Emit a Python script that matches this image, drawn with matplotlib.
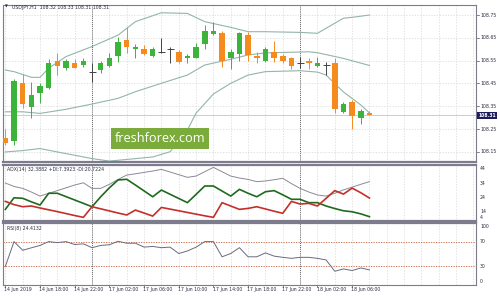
import numpy as np
import matplotlib
matplotlib.use('Agg')
import matplotlib.pyplot as plt

W, H = 500, 296

# hourly USDJPY candles
opens = [108.213, 108.199, 108.451, 108.348, 108.410, 108.429, 108.549, 108.519, 108.538, 108.530,
         108.500, 108.509, 108.528, 108.570, 108.640, 108.600, 108.600, 108.570, 108.589, 108.600,
         108.589, 108.560, 108.560, 108.622, 108.667, 108.672, 108.560, 108.578, 108.662, 108.572,
         108.549, 108.589, 108.570, 108.560, 108.538, 108.549, 108.528, 108.531, 108.538, 108.326,
         108.370, 108.298, 108.320]
highs = [108.249, 108.470, 108.490, 108.458, 108.451, 108.557, 108.582, 108.556, 108.556, 108.560,
         108.538, 108.549, 108.582, 108.655, 108.699, 108.622, 108.619, 108.611, 108.651, 108.611,
         108.597, 108.579, 108.629, 108.706, 108.719, 108.681, 108.600, 108.676, 108.677, 108.587,
         108.611, 108.637, 108.578, 108.567, 108.567, 108.563, 108.567, 108.545, 108.560, 108.370,
         108.378, 108.337, 108.330]
lows = [108.181, 108.181, 108.341, 108.298, 108.363, 108.425, 108.487, 108.509, 108.517, 108.521,
        108.458, 108.497, 108.521, 108.545, 108.582, 108.560, 108.575, 108.567, 108.582, 108.540,
        108.538, 108.538, 108.560, 108.600, 108.662, 108.521, 108.512, 108.549, 108.550, 108.538,
        108.545, 108.545, 108.538, 108.512, 108.517, 108.512, 108.521, 108.487, 108.319, 108.319,
        108.249, 108.273, 108.310]
closes = [108.191, 108.461, 108.360, 108.400, 108.439, 108.538, 108.527, 108.549, 108.519, 108.549,
          108.500, 108.538, 108.560, 108.630, 108.611, 108.611, 108.579, 108.600, 108.589, 108.600,
          108.545, 108.570, 108.611, 108.681, 108.681, 108.550, 108.589, 108.670, 108.575, 108.560,
          108.600, 108.560, 108.550, 108.527, 108.538, 108.538, 108.541, 108.531, 108.338, 108.359,
          108.309, 108.331, 108.310]

# bollinger bands, sampled points (candle index, price)
bb_up_idx = [0, 1, 3, 4, 5, 7, 10, 13, 15, 18, 21, 23, 26, 28, 30, 34, 36, 37, 39, 40, 42]
bb_up = [108.509, 108.502, 108.477, 108.477, 108.517, 108.568, 108.612, 108.662, 108.721, 108.760,
         108.757, 108.721, 108.696, 108.677, 108.677, 108.674, 108.670, 108.692, 108.736, 108.740, 108.750]
bb_mid_idx = [0, 2, 4, 7, 10, 13, 15, 18, 21, 23, 26, 28, 30, 35, 36, 39, 42]
bb_mid = [108.326, 108.326, 108.319, 108.337, 108.360, 108.385, 108.414, 108.451, 108.487, 108.531,
          108.556, 108.575, 108.584, 108.589, 108.585, 108.560, 108.529]
bb_low_idx = [0, 2, 4, 6, 10, 12, 17, 19, 21, 22, 24, 26, 28, 30, 34, 36, 37, 39, 41, 42]
bb_low = [108.150, 108.156, 108.165, 108.150, 108.121, 108.110, 108.128, 108.151, 108.246, 108.320,
          108.404, 108.451, 108.487, 108.502, 108.506, 108.500, 108.487, 108.413, 108.356, 108.321]

adx = [31.4, 29.0, 27.6, 25.0, 22.1, 24.1, 26.0, 28.0, 30.0, 31.6, 27.6, 27.6, 30.5, 34.0, 37.1,
       38.0, 39.0, 40.0, 41.2, 39.3, 37.4, 35.5, 36.4, 39.5, 42.6, 39.5, 36.4, 35.0, 34.0, 32.4,
       32.9, 33.8, 34.8, 31.0, 27.6, 25.0, 22.9, 22.1, 24.1, 26.5, 28.5, 30.5, 32.4]
plus_di = [12.6, 20.9, 20.5, 18.0, 15.7, 24.1, 24.1, 21.7, 19.3, 16.9, 14.5, 21.6, 28.0, 33.6, 34.1,
           30.0, 25.8, 21.6, 26.4, 23.4, 20.4, 17.4, 23.3, 29.3, 29.3, 25.7, 22.1, 26.9, 24.1, 21.6,
           25.2, 26.0, 23.0, 19.8, 19.8, 17.4, 17.4, 15.0, 13.2, 11.6, 10.9, 9.4, 7.4]
minus_di = [18.3, 16.0, 14.5, 15.0, 13.6, 12.3, 11.0, 9.6, 8.2, 6.9, 14.5, 13.0, 11.5, 10.0, 8.6,
            12.1, 10.0, 7.8, 14.0, 12.8, 11.6, 10.4, 9.2, 8.0, 6.9, 17.4, 15.0, 12.6, 13.3, 14.5,
            12.9, 11.3, 9.8, 18.3, 16.4, 16.9, 15.0, 20.5, 26.0, 23.5, 27.8, 24.5, 20.7]
rsi = [30, 70, 56, 60, 63.8, 70, 68.4, 70, 65.3, 66.4, 60.2, 63.8, 64.9, 70.5, 67.4, 67.4, 61.1,
       62.2, 60.2, 61.1, 50.8, 54.9, 61, 70, 70, 45.5, 50.8, 60.2, 45.5, 45.5, 51.8, 46.6, 44.6,
       43, 44.6, 44.6, 43, 40.4, 22.2, 25.9, 23.3, 27.5, 24.4]

price_ticks = [108.15, 108.25, 108.35, 108.45, 108.55, 108.65, 108.75]
time_idx = [0, 4, 8, 12, 16, 20, 24, 28, 32, 36, 40]
time_labels = ['14 Jun 2019', '14 Jun 18:00', '14 Jun 22:00', '17 Jun 02:00', '17 Jun 06:00',
               '17 Jun 10:00', '17 Jun 14:00', '17 Jun 18:00', '17 Jun 22:00', '18 Jun 02:00',
               '18 Jun 06:00']
day_breaks = [10, 34]
last_price = 108.31

bull = '#3cb43c'
bear = '#f58a1f'
band_c = '#93b5aa'
fs = 3.35
txt_c = '#2a2a40'


def px_box(x0, y0, x1, y1):
    return [x0 / W, 1 - y1 / H, (x1 - x0) / W, (y1 - y0) / H]


fig = plt.figure(figsize=(5, 2.96), dpi=100)
fig.patch.set_facecolor('white')
ax_p = fig.add_axes(px_box(3, 5, 476, 162))
ax_a = fig.add_axes(px_box(3, 165, 476, 221))
ax_r = fig.add_axes(px_box(3, 223, 476, 285))

xmin, xmax = -0.27, 54.29
for ax in (ax_p, ax_a, ax_r):
    ax.set_xlim(xmin, xmax)
    ax.set_xticks([])
    ax.set_yticks([])
    for s in ax.spines.values():
        s.set_color('#7c7c8c')
        s.set_linewidth(0.8)
    for gx in range(0, 55, 2):
        ax.axvline(gx, color='#d8d8d8', lw=0.5, ls=(0, (2, 2)), zorder=0)
    for d in day_breaks:
        ax.axvline(d, color='#333333', lw=0.6, ls=(0, (1, 1.5)), zorder=1)
ax_p.spines['bottom'].set_linewidth(1.6)
ax_a.spines['top'].set_linewidth(1.6)
ax_a.spines['bottom'].set_linewidth(1.6)
ax_r.spines['top'].set_linewidth(1.6)

# price panel
ax_p.set_ylim(108.106, 108.794)
for p in price_ticks:
    ax_p.axhline(p, color='#d8d8d8', lw=0.5, ls=(0, (2, 2)), zorder=0)
ax_p.axhline(last_price, color='#c4c4c4', lw=0.6, zorder=1)

ax_p.plot(bb_up_idx, bb_up, color=band_c, lw=0.8, zorder=2)
ax_p.plot(bb_mid_idx, bb_mid, color=band_c, lw=0.8, zorder=2)
ax_p.plot(bb_low_idx, bb_low, color=band_c, lw=0.8, zorder=2)

idx = np.arange(len(opens))
o = np.array(opens)
c = np.array(closes)
cols = []
for oo, cc in zip(o, c):
    if cc > oo:
        cols.append(bull)
    elif cc < oo:
        cols.append(bear)
    else:
        cols.append('#444444')
ax_p.vlines(idx, lows, highs, colors=cols, lw=0.7, zorder=3)
body = np.abs(c - o)
ax_p.bar(idx, body, bottom=np.minimum(o, c), width=0.64, color=cols, lw=0, zorder=4)
doji = body == 0
ax_p.hlines(c[doji], idx[doji] - 0.4, idx[doji] + 0.4, colors='#444444', lw=0.7, zorder=4)

fig.text(5 / W, 1 - 7 / H, '\u25bc', fontsize=2.6, color=txt_c, va='center')
fig.text(12 / W, 1 - 7 / H, 'USDJPY,H1  108.32 108.33 108.31 108.31', fontsize=fs,
         color=txt_c, va='center')

for p in price_ticks:
    ax_p.plot([xmax, xmax + 0.35], [p, p], color='#555555', lw=0.5, clip_on=False)
    ax_p.text(xmax + 0.5, p, f'{p:.2f}', fontsize=fs, color=txt_c, va='center', ha='left',
              clip_on=False)
ax_p.text(xmax + 0.25, last_price, f'{last_price:.2f}', fontsize=fs, color='white', va='center',
          ha='left', clip_on=False, fontweight='bold',
          bbox=dict(boxstyle='square,pad=0.3', fc='#1b1b5e', ec='none'))

# watermark
fig.text(160 / W, 1 - 138.5 / H, 'freshforex.com', fontsize=9.2, family='Open Sans',
         color='white', ha='center', va='center',
         bbox=dict(boxstyle='square,pad=0.3', fc='#7aab3b', ec='none'))

# ADX panel
ax_a.set_ylim(4.3, 44.3)
ax_a.plot(idx, adx, color='#8a8a98', lw=0.7, zorder=3)
ax_a.plot(idx, plus_di, color='#1f6a1f', lw=1.2, zorder=4)
ax_a.plot(idx, minus_di, color='#c42f2a', lw=1.2, zorder=4)
fig.text(7 / W, 1 - 169.5 / H, 'ADX(14) 32.3882 +DI:7.3923 -DI:20.7224', fontsize=fs,
         color=txt_c, va='center')
for lab, ypx in [('44', 168.3), ('34', 183.3), ('24', 197.7), ('14', 211.7), ('4', 217.7)]:
    fig.text(480 / W, 1 - ypx / H, lab, fontsize=fs, color=txt_c, va='center')

# RSI panel
ax_r.set_ylim(0, 100)
ax_r.axhline(70, color='#c0603c', lw=0.6, ls=(0, (1.5, 1.5)), zorder=1)
ax_r.axhline(30, color='#c0603c', lw=0.6, ls=(0, (1.5, 1.5)), zorder=1)
ax_r.plot(idx, rsi, color='#6a6a80', lw=0.7, zorder=3)
fig.text(7 / W, 1 - 228.5 / H, 'RSI(8) 24.4132', fontsize=fs, color=txt_c, va='center')
for lab, ypx in [('100', 226.7), ('70', 241.7), ('30', 266.3), ('0', 281.5)]:
    fig.text(480 / W, 1 - ypx / H, lab, fontsize=fs, color=txt_c, va='center')

for ti, tl in zip(time_idx, time_labels):
    ax_r.plot([ti, ti], [0, -3], color='#555555', lw=0.5, clip_on=False)
    ax_r.text(ti - 0.1, -6.5, tl, fontsize=fs, color=txt_c, ha='left', va='center',
              clip_on=False)

fig.savefig('out.png', dpi=100)
